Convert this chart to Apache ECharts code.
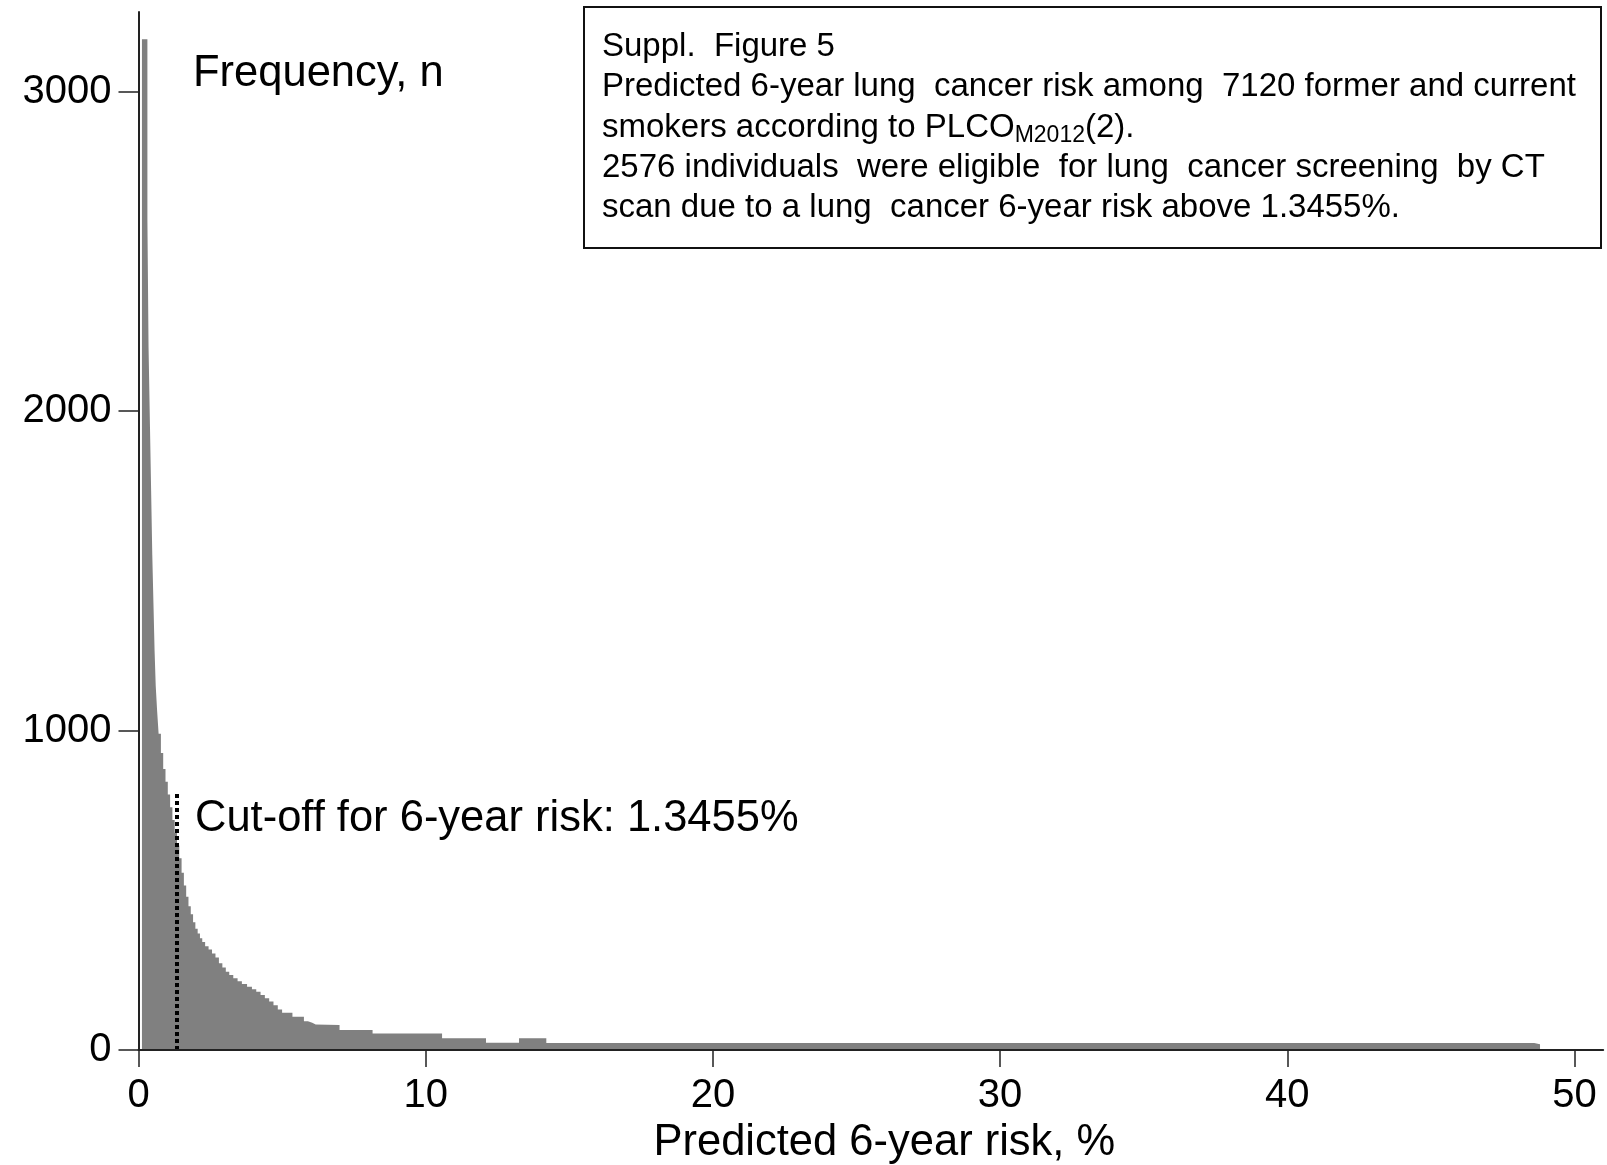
<!DOCTYPE html>
<html>
<head>
<meta charset="utf-8">
<script src="https://cdn.jsdelivr.net/npm/echarts@6/dist/echarts.min.js"></script>
<style>
  html, body { margin: 0; padding: 0; background: #fff; }
  #chart { width: 1607px; height: 1165px; }
</style>
</head>
<body>
<div id="chart"></div>
<script>
// left edge of each bin (predicted 6-year risk, %)
const binStart = [
  0.12, 0.31, 0.35, 0.40, 0.44, 0.48, 0.52, 0.56, 0.60, 0.65,
  0.70, 0.78, 0.86, 0.94, 1.02, 1.10, 1.18, 1.26, 1.34,
  1.42, 1.50, 1.58, 1.66, 1.74, 1.82, 1.90, 1.98, 2.06, 2.14,
  2.22, 2.32, 2.44, 2.56, 2.68, 2.80, 2.92, 3.04, 3.16, 3.30,
  3.45, 3.60, 3.78, 3.95, 4.10, 4.25, 4.40, 4.55, 4.70, 4.85,
  5.00, 5.36, 5.76, 5.90, 6.05, 6.17, 7.00, 8.15, 10.57, 12.10,
  13.25, 14.20, 48.60
];
// frequency, n
const freq = [
  3165, 2600, 2200, 1950, 1750, 1550, 1400, 1250, 1140, 1060,
  990, 930, 880, 840, 800, 760, 720, 680, 640,
  600, 555, 515, 480, 450, 425, 400, 380, 365, 350,
  338, 325, 315, 302, 290, 272, 258, 245, 235, 225,
  215, 207, 198, 190, 182, 172, 162, 152, 140, 127,
  117, 104, 90, 85, 80, 78, 63, 52, 37, 23,
  37, 22, 18
];
const lastBinEnd = 48.8;

const xTicks = [0, 10, 20, 30, 40, 50];
const yTicks = [0, 1000, 2000, 3000];

const cutoffRisk = 1.3455;
const cutoffLineTop = 810;

const boxLines = [
  'Suppl.  Figure 5',
  'Predicted 6-year lung  cancer risk among  7120 former and current',
  'smokers according to PLCO{sub|M2012}(2).',
  '2576 individuals  were eligible  for lung  cancer screening  by CT',
  'scan due to a lung  cancer 6-year risk above 1.3455%.'
];

const FONT = "'Liberation Sans', Arial, sans-serif";

const stepData = binStart.map((x, i) => [x, freq[i]]);
stepData.push([lastBinEnd, 0]);

const chart = echarts.init(document.getElementById('chart'), null, { renderer: 'canvas' });

const option = {
  animation: false,
  backgroundColor: '#fff',
  grid: {
    left: 138.5,
    right: 3.8,
    top: 12,
    bottom: 115,
    containLabel: false,
    outerBoundsMode: 'none'
  },
  xAxis: {
    type: 'value',
    min: 0,
    max: 51,
    z: 5,
    name: 'Predicted 6-year risk, %',
    nameLocation: 'middle',
    nameGap: 66,
    nameTextStyle: { color: '#000', fontSize: 43.5, fontFamily: FONT, padding: [0, 0, 0, 27] },
    axisLine: { onZero: false, lineStyle: { color: '#222', width: 2 } },
    axisTick: { show: true, length: 17, customValues: xTicks, lineStyle: { color: '#222', width: 1.5 } },
    axisLabel: { customValues: xTicks, color: '#000', fontSize: 40, fontFamily: FONT, margin: 26 },
    splitLine: { show: false }
  },
  yAxis: {
    type: 'value',
    min: 0,
    max: 3250,
    z: 5,
    axisLine: { show: true, lineStyle: { color: '#222', width: 2 } },
    axisTick: { show: true, length: 20, customValues: yTicks, lineStyle: { color: '#222', width: 1.5 } },
    axisLabel: {
      customValues: yTicks,
      formatter: (v) => String(v),
      color: '#000', fontSize: 40, fontFamily: FONT, margin: 27
    },
    splitLine: { show: false }
  },
  series: [
    {
      type: 'line',
      step: 'end',
      data: stepData,
      symbol: 'none',
      lineStyle: { width: 0, opacity: 0 },
      areaStyle: { color: '#808080', opacity: 1 },
      z: 2,
      markLine: {
        silent: true,
        symbol: ['none', 'none'],
        label: { show: false },
        lineStyle: { color: '#000', width: 4, type: [4, 3] },
        data: [[{ coord: [cutoffRisk, 0] }, { coord: [cutoffRisk, cutoffLineTop] }]]
      }
    }
  ],
  graphic: [
    {
      type: 'text',
      left: 193,
      top: 52,
      style: { text: 'Frequency, n', fill: '#000', font: '43.5px ' + FONT }
    },
    {
      type: 'text',
      left: 195,
      top: 797,
      style: { text: 'Cut-off for 6-year risk: 1.3455%', fill: '#000', font: '43.5px ' + FONT }
    },
    {
      type: 'rect',
      shape: { x: 584, y: 7, width: 1017, height: 241 },
      style: { fill: '#fff', stroke: '#111', lineWidth: 2 }
    },
    {
      type: 'text',
      left: 602,
      top: 27,
      style: {
        text: boxLines.join('\n'),
        fill: '#000',
        font: '33px ' + FONT,
        lineHeight: 40.2,
        rich: {
          sub: { fontSize: 23, fontFamily: FONT, fill: '#000', lineHeight: 40.2, verticalAlign: 'bottom' }
        }
      }
    }
  ]
};

chart.setOption(option);
</script>
</body>
</html>
